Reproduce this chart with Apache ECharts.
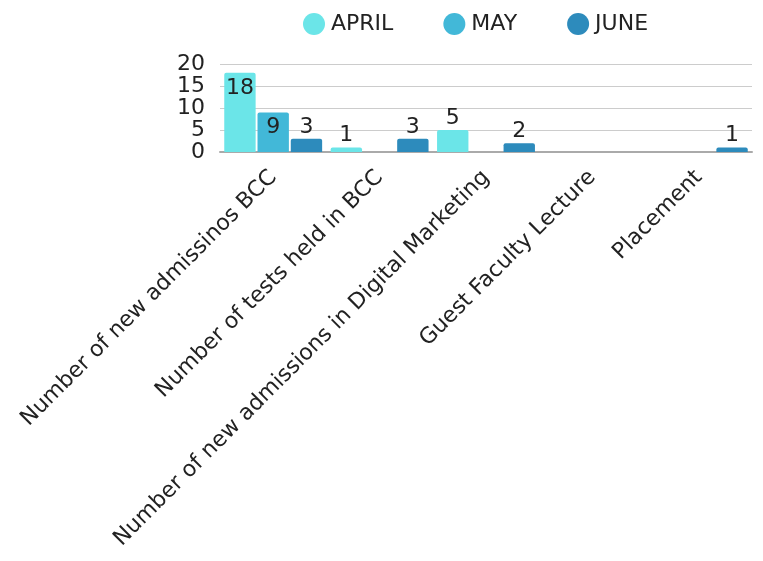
<!DOCTYPE html>
<html>
<head>
<meta charset="utf-8">
<script src="https://cdn.jsdelivr.net/npm/echarts@6/dist/echarts.min.js"></script>
<style>
html, body { margin: 0; padding: 0; background: #fff; }
#main { width: 763px; height: 561px; }
</style>
</head>
<body>
<div id="main"></div>
<script>
var categories = ['Number of new admissinos BCC', 'Number of tests held in BCC',
    'Number of new admissions in Digital Marketing', 'Guest Faculty Lecture', 'Placement'];
var april = [18, 1, 5, 0, 0];
var may = [9, 0, 0, 0, 0];
var june = [3, 3, 2, 0, 1];
var yTicks = [0, 5, 10, 15, 20];

var font = 'DejaVu Sans';

// labels of tall bars sit inside the bar top, others above
var toData = function (arr, insideIdx) {
    var res = [];
    for (var i = 0; i < arr.length; i++) {
        var item = { value: arr[i] };
        if (arr[i] === 0) {
            item.label = { show: false };
        } else if (insideIdx.indexOf(i) >= 0) {
            item.label = { position: 'insideTop', distance: 4 };
        }
        res.push(item);
    }
    return res;
};

var makeSeries = function (name, color, data) {
    return {
        name: name,
        type: 'bar',
        data: data,
        barGap: '6%',
        barCategoryGap: '8%',
        itemStyle: { color: color, borderRadius: [2, 2, 0, 0] },
        label: {
            show: true,
            position: 'top',
            distance: 1,
            color: '#222',
            fontFamily: font,
            fontSize: 22
        }
    };
};

option = {
    backgroundColor: '#fff',
    legend: {
        top: 8,
        left: 298,
        icon: 'circle',
        itemWidth: 22,
        itemHeight: 22,
        itemGap: 50,
        textStyle: { fontFamily: font, fontSize: 22, color: '#222', padding: [0, 0, 0, 1] }
    },
    grid: { left: 220, right: 11, top: 64, bottom: 409 },
    xAxis: {
        type: 'category',
        data: categories,
        axisLine: { lineStyle: { color: '#aaa', width: 2 } },
        axisTick: { show: false },
        axisLabel: {
            rotate: 45,
            interval: 0,
            margin: 22,
            color: '#222',
            fontFamily: font,
            fontSize: 22
        }
    },
    yAxis: {
        type: 'value',
        min: yTicks[0],
        max: yTicks[yTicks.length - 1],
        interval: 5,
        axisLine: { show: false },
        axisTick: { show: false },
        splitLine: { lineStyle: { color: '#ccc' } },
        axisLabel: { margin: 15, color: '#222', fontFamily: font, fontSize: 22 }
    },
    series: [
        makeSeries('APRIL', '#6be5e8', toData(april, [0])),
        makeSeries('MAY', '#42b8d8', toData(may, [0])),
        makeSeries('JUNE', '#2d8bbc', toData(june, []))
    ]
};

var myChart = echarts.init(document.getElementById('main'));
myChart.setOption(option);
</script>
</body>
</html>
